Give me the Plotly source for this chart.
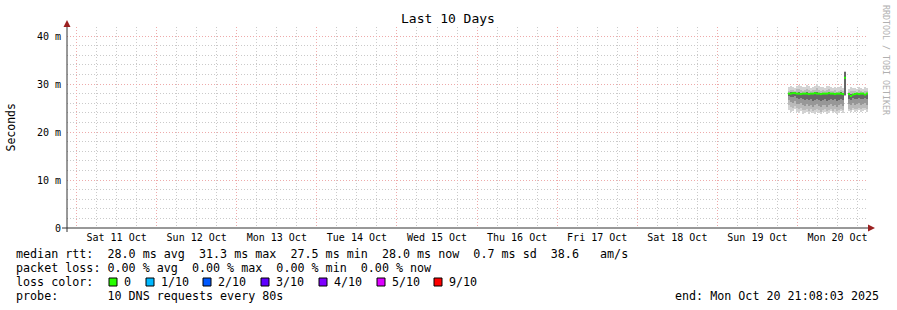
import numpy as np
import pandas as pd
import plotly.graph_objects as go

nan = float("nan")

# ---------------- data ----------------
range_start = "2025-10-10 21:08:03"
range_end = "2025-10-20 21:08:03"
bin_start = "2025-10-19 21:08:03"
bin_minutes = 36

median = [28.0, 28.0, 28.1, 28.1, 28.0, 28.0, 27.9, 28.0, 28.0, 28.0,
          27.9, 28.0, 28.0, 28.1, 28.0, 28.0, 27.9, 28.0, 28.0, 28.0,
          28.1, 28.0, 28.0, 27.9, 28.0, 28.0, 28.0, 27.9, 31.3, nan,
          27.9, 27.5, 27.8, 27.9, 28.0, 27.9, 28.0, 28.0, 27.8, 28.0]
p_max = [29.3, 29.6, 29.4, 29.2, 29.5, 29.8, 29.6, 29.3, 29.4, 29.7,
         29.5, 29.2, 29.4, 29.6, 29.9, 29.5, 29.3, 29.4, 29.2, 29.5,
         29.6, 29.3, 29.2, 29.4, 29.1, 29.3, 29.5, 29.2, 32.7, nan,
         29.0, 29.3, 29.1, 29.2, 29.0, 29.4, 29.2, 29.0, 29.3, 29.1]
p_hi = [28.6, 28.8, 28.7, 28.6, 28.9, 29.0, 28.8, 28.6, 28.7, 28.9,
        28.8, 28.5, 28.7, 28.8, 29.1, 28.8, 28.6, 28.7, 28.5, 28.8,
        28.9, 28.6, 28.5, 28.7, 28.4, 28.6, 28.8, 28.5, 32.6, nan,
        28.4, 28.6, 28.5, 28.6, 28.4, 28.7, 28.5, 28.4, 28.6, 28.5]
p_up1 = [28.2, 28.3, 28.3, 28.3, 28.2, 28.3, 28.1, 28.2, 28.2, 28.3,
         28.1, 28.2, 28.2, 28.3, 28.3, 28.2, 28.1, 28.2, 28.2, 28.2,
         28.3, 28.2, 28.2, 28.1, 28.2, 28.2, 28.3, 28.1, 32.6, nan,
         28.1, 27.9, 28.0, 28.1, 28.2, 28.1, 28.2, 28.2, 28.0, 28.2]
p_lo1 = [27.5, 27.3, 27.2, 27.4, 27.0, 26.9, 27.1, 26.8, 26.7, 26.9,
         26.6, 26.8, 26.5, 26.7, 26.9, 26.6, 26.4, 26.7, 26.8, 26.5,
         26.7, 26.9, 26.6, 26.8, 26.5, 26.7, 26.9, 26.6, 27.8, nan,
         26.9, 26.7, 27.0, 26.8, 26.9, 27.1, 26.8, 26.9, 27.0, 26.8]
p_lo2 = [26.6, 26.3, 26.1, 26.4, 25.9, 25.8, 26.0, 25.6, 25.5, 25.8,
         25.4, 25.7, 25.3, 25.6, 25.8, 25.5, 25.2, 25.6, 25.7, 25.3,
         25.6, 25.8, 25.4, 25.7, 25.3, 25.6, 25.8, 25.5, 27.7, nan,
         25.8, 25.6, 26.0, 25.7, 25.8, 26.1, 25.7, 25.9, 26.0, 25.7]
p_lo3 = [25.6, 25.3, 25.1, 25.4, 24.9, 24.8, 25.0, 24.6, 24.5, 24.8,
         24.4, 24.7, 24.3, 24.6, 24.8, 24.5, 24.2, 24.6, 24.7, 24.3,
         24.6, 24.8, 24.4, 24.7, 24.3, 24.6, 24.8, 24.5, 27.6, nan,
         24.8, 24.6, 25.0, 24.7, 24.8, 25.1, 24.7, 24.9, 25.0, 24.7]
p_min = [24.5, 24.2, 24.4, 24.7, 24.1, 23.9, 24.3, 23.8, 24.0, 24.2,
         23.7, 24.1, 23.9, 23.8, 24.2, 24.0, 23.7, 24.1, 24.2, 23.8,
         24.0, 24.3, 23.9, 24.1, 23.8, 24.0, 24.3, 23.9, 27.5, nan,
         24.3, 24.1, 24.5, 24.2, 24.3, 24.6, 24.1, 24.4, 24.5, 24.2]

ytick_vals = [0, 10, 20, 30, 40]
ytick_text = ["0", "10 m", "20 m", "30 m", "40 m"]
y_max = 41.875

title_text = "Last 10 Days"
legend_rows = [
    "median rtt:  28.0 ms avg  31.3 ms max  27.5 ms min  28.0 ms now  0.7 ms sd  38.6   am/s",
    "packet loss: 0.00 % avg  0.00 % max  0.00 % min  0.00 % now",
    "loss color:",
    "probe:       10 DNS requests every 80s",
]
loss_labels = ["0", "1/10", "2/10", "3/10", "4/10", "5/10", "9/10"]
loss_colors = ["#26ff00", "#00b8ff", "#0059ff", "#5e00ff", "#7e00ff", "#dd00ff", "#ff0000"]
end_text = "end: Mon Oct 20 21:08:03 2025"
watermark = "RRDTOOL / TOBI OETIKER"

# ---------------- geometry helpers ----------------
W, H = 897, 310
L, R, T, B = 67, 29, 27, 82
PW, PH = W - L - R, H - T - B


def px(X):
    return (X - L) / PW


def py(Y):
    return (T + PH - Y) / PH


MONO = "DejaVu Sans Mono"
GRID = "#cacaca"
MGRID = "#eeaaaa"
ARROW = "#9b2020"
AXIS = "#333333"
DASH = "1px,2px"

times = pd.date_range(bin_start, periods=len(median), freq=f"{bin_minutes}min")
width_ms = bin_minutes * 60 * 1000
step = pd.Timedelta(minutes=bin_minutes)

fig = go.Figure()

bands = [
    (p_min, p_max, "#d3d3d3"),
    (p_lo3, p_hi, "#bababa"),
    (p_lo2, p_up1, "#979797"),
    (p_lo1, p_up1, "#666666"),
]
for lo, hi, col in bands:
    lo_a = np.array(lo, dtype=float)
    hi_a = np.array(hi, dtype=float)
    fig.add_trace(go.Bar(
        x=times, y=hi_a - lo_a, base=lo_a, width=width_ms, offset=0,
        marker=dict(color=col, line=dict(width=0)),
        showlegend=False, hoverinfo="skip",
    ))

# median line: one horizontal segment per bin
mx, my = [], []
for t, m in zip(times, median):
    mx += [t, t + step, None]
    my += [m, m, None]
fig.add_trace(go.Scatter(
    x=mx, y=my, mode="lines", line=dict(color="#26ff00", width=2),
    connectgaps=False, showlegend=False, hoverinfo="skip",
))

fig.update_layout(
    width=W, height=H,
    margin=dict(l=L, r=R, t=T, b=B, pad=0),
    paper_bgcolor="white", plot_bgcolor="white",
    barmode="overlay", bargap=0, showlegend=False,
    font=dict(family=MONO, size=10, color="black"),
    xaxis=dict(
        type="date", range=[range_start, range_end],
        dtick=86400000, tick0="2025-10-11 00:00:00",
        tickformat="%a %d %b", ticklabelmode="period",
        showgrid=True, gridcolor=MGRID, griddash=DASH, gridwidth=1,
        minor=dict(dtick=21600000, tick0="2025-10-11 00:00:00", showgrid=True,
                   gridcolor=GRID, griddash=DASH, gridwidth=1),
        ticks="", showline=False, zeroline=False,
        tickfont=dict(family=MONO, size=10, color="black"),
        ticklabelstandoff=2,
    ),
    yaxis=dict(
        range=[0, y_max], tickvals=ytick_vals, ticktext=ytick_text,
        showgrid=True, gridcolor=MGRID, griddash=DASH, gridwidth=1,
        minor=dict(dtick=2, showgrid=True, gridcolor=GRID, griddash=DASH, gridwidth=1),
        ticks="", showline=False, zeroline=False,
        tickfont=dict(family=MONO, size=10, color="black"),
        ticklabelstandoff=5,
    ),
)

shapes = [
    # axes lines
    dict(type="line", xref="paper", yref="paper", x0=px(62), x1=px(869), y0=py(228), y1=py(228),
         line=dict(color=AXIS, width=1), layer="above"),
    dict(type="line", xref="paper", yref="paper", x0=px(67), x1=px(67), y0=py(232), y1=py(25),
         line=dict(color=AXIS, width=1), layer="above"),
    # arrows
    dict(type="path", xref="paper", yref="paper",
         path=f"M {px(67)},{py(20)} L {px(63.5)},{py(27)} L {px(70.5)},{py(27)} Z",
         fillcolor=ARROW, line=dict(color=ARROW, width=0), layer="above"),
    dict(type="path", xref="paper", yref="paper",
         path=f"M {px(875)},{py(228)} L {px(868)},{py(224.5)} L {px(868)},{py(231.5)} Z",
         fillcolor=ARROW, line=dict(color=ARROW, width=0), layer="above"),
]

annotations = [
    dict(text=title_text, x=px(448), y=py(19), xref="paper", yref="paper",
         xanchor="center", yanchor="middle", showarrow=False,
         font=dict(family=MONO, size=13, color="black")),
    dict(text="Seconds", x=px(10.5), y=py(127), xref="paper", yref="paper",
         xanchor="center", yanchor="middle", showarrow=False, textangle=-90,
         font=dict(family=MONO, size=11.5, color="black")),
    dict(text=watermark, x=px(886), y=py(60), xref="paper", yref="paper",
         xanchor="center", yanchor="middle", showarrow=False, textangle=90,
         font=dict(family=MONO, size=8.3, color="#b0b0b0")),
    dict(text=end_text, x=px(881), y=py(296), xref="paper", yref="paper",
         xanchor="right", yanchor="middle", showarrow=False,
         font=dict(family=MONO, size=11.7, color="black")),
]
row_y = [254, 268, 282, 296]
for txt, yy in zip(legend_rows, row_y):
    annotations.append(dict(text=txt.replace(" ", "&nbsp;"), x=px(14), y=py(yy), xref="paper", yref="paper",
                            xanchor="left", yanchor="middle", showarrow=False,
                            font=dict(family=MONO, size=11.7, color="black")))

sq_x = [109, 146, 203, 261, 319, 377, 434]
for sx, lab, col in zip(sq_x, loss_labels, loss_colors):
    shapes.append(dict(type="rect", xref="paper", yref="paper",
                       x0=px(sx), x1=px(sx + 8), y0=py(286), y1=py(278),
                       fillcolor=col, line=dict(color="black", width=1), layer="above"))
    annotations.append(dict(text=lab, x=px(sx + 13), y=py(282), xref="paper", yref="paper",
                            xanchor="left", yanchor="middle", showarrow=False,
                            font=dict(family=MONO, size=11.7, color="black")))

fig.update_layout(shapes=shapes, annotations=annotations)
fig.write_html("out.html")
